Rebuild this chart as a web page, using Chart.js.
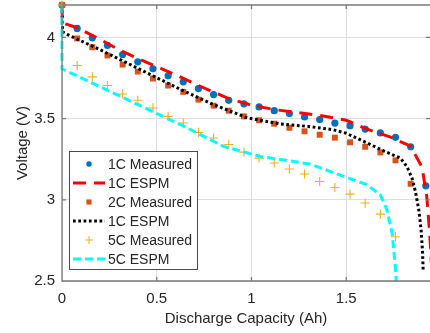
<!DOCTYPE html>
<html>
<head>
<meta charset="utf-8">
<script src="https://cdn.jsdelivr.net/npm/chart.js@4/dist/chart.umd.min.js"></script>
<style>
  html, body { margin: 0; padding: 0; background: #fff; }
  canvas { display: block; }
</style>
</head>
<body>
<canvas id="chart" width="430" height="333"></canvas>
<script>
// measured samples, one every 0.08 Ah
const capMeasured = [0, 0.08, 0.16, 0.24, 0.32, 0.40, 0.48, 0.56, 0.64, 0.72, 0.80, 0.88, 0.96,
  1.04, 1.12, 1.20, 1.28, 1.36, 1.44, 1.52, 1.60, 1.68, 1.76, 1.84, 1.92];

const volt1CMeasured = [4.2, 4.056, 3.998, 3.951, 3.895, 3.850, 3.807, 3.764, 3.727, 3.685, 3.648,
  3.613, 3.591, 3.572, 3.549, 3.531, 3.510, 3.494, 3.473, 3.457, 3.436, 3.412, 3.385, 3.327, 3.086];
const volt2CMeasured = [4.2, 3.994, 3.940, 3.889, 3.833, 3.790, 3.747, 3.704, 3.665, 3.617, 3.580,
  3.549, 3.514, 3.490, 3.469, 3.444, 3.422, 3.401, 3.383, 3.354, 3.327, 3.292, 3.243, 3.099];
const volt5CMeasured = [4.2, 3.827, 3.757, 3.704, 3.652, 3.613, 3.566, 3.514, 3.473, 3.415, 3.381,
  3.341, 3.294, 3.257, 3.227, 3.190, 3.159, 3.113, 3.076, 3.035, 2.980, 2.912, 2.773];

// model curves
const cap1CModel = [0, 0.002, 0.08, 0.19, 0.30, 0.42, 0.53, 0.64, 0.76, 0.88, 1.0, 1.12, 1.25,
  1.36, 1.5, 1.61, 1.73, 1.84, 1.9, 1.925, 1.94, 1.955];
const volt1CModel = [4.2, 4.09, 4.06, 3.995, 3.925, 3.86, 3.805, 3.748, 3.683, 3.624, 3.583, 3.556,
  3.536, 3.52, 3.49, 3.435, 3.388, 3.33, 3.2, 3.02, 2.8, 2.5];

const cap2CModel = [0, 0.003, 0.025, 0.2, 0.4, 0.62, 0.8, 0.98, 1.15, 1.3, 1.43, 1.5, 1.61, 1.7,
  1.786, 1.82, 1.847, 1.865, 1.883, 1.895, 1.903, 1.906];
const volt2CModel = [4.2, 4.035, 4.02, 3.925, 3.81, 3.683, 3.586, 3.504, 3.468, 3.452, 3.432, 3.41,
  3.35, 3.3, 3.257, 3.205, 3.134, 3.051, 2.938, 2.815, 2.671, 2.56];

const cap5CModel = [0, 0, 0.65, 0.852, 1.046, 1.2, 1.31, 1.486, 1.61, 1.68, 1.715, 1.742, 1.759, 1.764];
const volt5CModel = [4.2, 3.807, 3.449, 3.329, 3.267, 3.24, 3.22, 3.144, 3.093, 3.03, 2.938, 2.794,
  2.588, 2.5];

const xTicks = [0, 0.5, 1, 1.5];
const yTicks = [2.5, 3, 3.5, 4];

const textColor = '#262626';
const fontFamily = '"Liberation Sans", Arial, Helvetica, sans-serif';

function toPoints(xs, ys) {
  return ys.map((y, i) => ({ x: xs[i], y: y }));
}

function measured(label, xs, ys, color, style, radius, order) {
  return {
    label: label,
    data: toPoints(xs, ys),
    showLine: false,
    pointStyle: style,
    pointRadius: radius,
    pointHoverRadius: radius,
    backgroundColor: color,
    borderColor: color,
    pointBorderWidth: style === 'cross' ? 1.1 : 0,
    order: order,
    clip: false
  };
}

function model(label, xs, ys, color, dash, order) {
  return {
    label: label,
    data: toPoints(xs, ys),
    showLine: true,
    pointRadius: 0,
    borderColor: color,
    borderWidth: 3,
    borderDash: dash,
    borderCapStyle: 'butt',
    tension: 0,
    order: order,
    clip: false
  };
}

// keep the plot box exactly where the axes are, no label padding
function noPad(s) {
  s.paddingTop = 0;
  s.paddingBottom = 0;
  s.paddingLeft = 0;
  s.paddingRight = 0;
}

// box with inward ticks, like the original axes
const axesBox = {
  id: 'axesBox',
  afterDatasetsDraw(chart) {
    const { ctx, chartArea: a, scales } = chart;
    ctx.save();
    ctx.strokeStyle = '#7a7a7a';
    ctx.lineWidth = 1.3;
    ctx.beginPath();
    ctx.moveTo(a.right, a.top);
    ctx.lineTo(a.left, a.top);
    ctx.lineTo(a.left, a.bottom);
    ctx.lineTo(a.right, a.bottom);
    xTicks.forEach(v => {
      const px = scales.x.getPixelForValue(v);
      ctx.moveTo(px, a.bottom); ctx.lineTo(px, a.bottom - 4);
      ctx.moveTo(px, a.top); ctx.lineTo(px, a.top + 4);
    });
    yTicks.forEach(v => {
      const py = scales.y.getPixelForValue(v);
      ctx.moveTo(a.left, py); ctx.lineTo(a.left + 4, py);
      ctx.moveTo(a.right, py); ctx.lineTo(a.right - 4, py);
    });
    ctx.stroke();
    ctx.restore();
  }
};

// legend box in the lower left corner
const insideLegend = {
  id: 'insideLegend',
  afterDraw(chart) {
    const ctx = chart.ctx;
    const box = { x: 69.5, y: 151.5, w: 128, h: 118 };
    const rowH = 19;
    ctx.save();
    ctx.fillStyle = '#fff';
    ctx.fillRect(box.x, box.y, box.w, box.h);
    ctx.strokeStyle = '#4a4a4a';
    ctx.lineWidth = 1;
    ctx.strokeRect(box.x, box.y, box.w, box.h);
    ctx.font = '14px ' + fontFamily;
    ctx.textBaseline = 'middle';
    ctx.textAlign = 'left';
    chart.data.datasets.forEach((ds, i) => {
      const cy = 164 + i * rowH;
      if (ds.showLine) {
        ctx.strokeStyle = ds.borderColor;
        ctx.lineWidth = ds.borderWidth;
        ctx.setLineDash(ds.borderDash);
        ctx.lineCap = 'butt';
        ctx.beginPath();
        ctx.moveTo(73, cy);
        ctx.lineTo(105, cy);
        ctx.stroke();
        ctx.setLineDash([]);
      } else {
        ctx.fillStyle = ds.backgroundColor;
        ctx.strokeStyle = ds.borderColor;
        const mx = 89;
        if (ds.pointStyle === 'circle') {
          ctx.beginPath();
          ctx.arc(mx, cy, 2.7, 0, Math.PI * 2);
          ctx.fill();
        } else if (ds.pointStyle === 'rect') {
          ctx.fillRect(mx - 2.6, cy - 2.6, 5.2, 5.2);
        } else {
          ctx.lineWidth = 1;
          ctx.beginPath();
          ctx.moveTo(mx - 4, cy); ctx.lineTo(mx + 4, cy);
          ctx.moveTo(mx, cy - 4); ctx.lineTo(mx, cy + 4);
          ctx.stroke();
        }
      }
      ctx.fillStyle = textColor;
      ctx.fillText(ds.label, 108, cy + 1);
    });
    ctx.restore();
  }
};

new Chart(document.getElementById('chart'), {
  type: 'scatter',
  data: {
    datasets: [
      measured('1C Measured', capMeasured, volt1CMeasured, '#0072BD', 'circle', 3.6, 6),
      model('1C ESPM', cap1CModel, volt1CModel, '#FF0000', [13, 8], 5),
      measured('2C Measured', capMeasured, volt2CMeasured, '#D95319', 'rect', 4.2, 4),
      model('1C ESPM', cap2CModel, volt2CModel, '#000000', [2.7, 2.6], 3),
      measured('5C Measured', capMeasured, volt5CMeasured, '#EDB120', 'cross', 4.6, 2),
      model('5C ESPM', cap5CModel, volt5CModel, '#00FFFF', [8, 4], 1)
    ]
  },
  options: {
    responsive: false,
    animation: false,
    devicePixelRatio: 1,
    layout: { autoPadding: false, padding: { top: 5, right: 0, bottom: 0, left: 0 } },
    plugins: {
      legend: { display: false },
      tooltip: { enabled: false }
    },
    scales: {
      x: {
        type: 'linear',
        min: 0,
        max: 1.942,
        afterBuildTicks: s => { s.ticks = xTicks.map(v => ({ value: v })); },
        afterFit: s => { s.height = 52; noPad(s); },
        grid: { color: '#dedede', lineWidth: 1, drawTicks: false },
        border: { display: false },
        ticks: {
          padding: 9,
          color: textColor,
          font: { family: fontFamily, size: 15 },
          maxRotation: 0,
          callback: v => String(v)
        },
        title: {
          display: true,
          text: 'Discharge Capacity (Ah)',
          color: textColor,
          font: { family: fontFamily, size: 15 },
          padding: { top: 0, bottom: 5 }
        }
      },
      y: {
        type: 'linear',
        min: 2.5,
        max: 4.2,
        afterBuildTicks: s => { s.ticks = yTicks.map(v => ({ value: v })); },
        afterFit: s => { s.width = 62; noPad(s); },
        grid: { color: '#dedede', lineWidth: 1, drawTicks: false },
        border: { display: false },
        ticks: {
          padding: 7,
          color: textColor,
          font: { family: fontFamily, size: 15 },
          callback: v => String(v)
        },
        title: {
          display: true,
          text: 'Voltage (V)',
          color: textColor,
          font: { family: fontFamily, size: 15 },
          padding: { top: 14, bottom: 0 }
        }
      }
    }
  },
  plugins: [axesBox, insideLegend]
});
</script>
</body>
</html>
